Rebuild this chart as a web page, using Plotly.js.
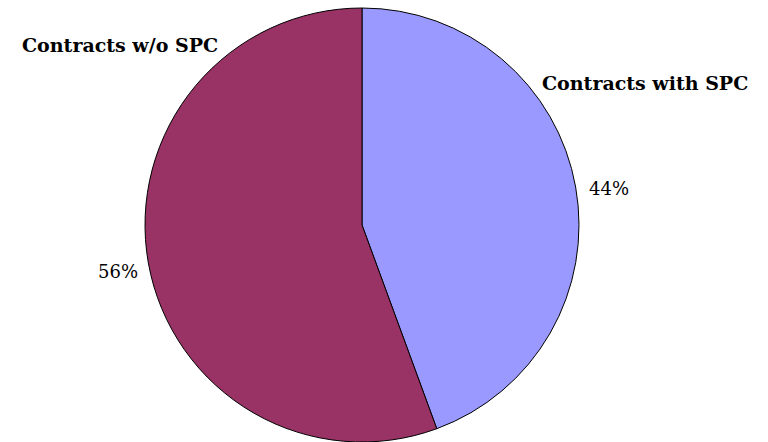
<!DOCTYPE html>
<html><head><meta charset="utf-8">
<script src="https://cdn.plot.ly/plotly-3.0.1.min.js"></script>
<style>body{margin:0;background:#fff}#c{width:768px;height:442px}</style>
</head><body><div id="c"></div>
<script>
const categories = ["Contracts with SPC", "Contracts w/o SPC"];
const values = [44.4, 55.6];
const percentLabels = ["44%", "56%"];
const colors = ["#9999FF", "#993366"];

const data = [{
  type: "pie",
  labels: categories,
  values: values,
  sort: false,
  direction: "clockwise",
  rotation: 0,
  textinfo: "none",
  hoverinfo: "label+percent",
  marker: {colors: colors, line: {color: "#000", width: 1}},
  domain: {x: [145/768, 579/768], y: [0, 434/442]}
}];

const fontBold = {family: "DejaVu Serif", size: 19, color: "#000", weight: "bold"};
const fontNorm = {family: "DejaVu Serif", size: 18, color: "#000"};
const annPos = [
  {lx: 645, ly: 83, px: 609, py: 188},
  {lx: 120, ly: 45, px: 118, py: 271}
];
const annotations = [];
categories.forEach((c, i) => {
  annotations.push({text: "<b>" + c + "</b>", x: annPos[i].lx/768, y: 1 - annPos[i].ly/442, xref: "paper", yref: "paper", showarrow: false, font: fontBold, xanchor: "center", yanchor: "middle"});
  annotations.push({text: percentLabels[i], x: annPos[i].px/768, y: 1 - annPos[i].py/442, xref: "paper", yref: "paper", showarrow: false, font: fontNorm, xanchor: "center", yanchor: "middle"});
});

Plotly.newPlot("c", data, {
  width: 768, height: 442,
  margin: {l: 0, r: 0, t: 0, b: 0},
  showlegend: false,
  paper_bgcolor: "#fff",
  annotations: annotations
}, {displayModeBar: false, staticPlot: true});
</script></body></html>
